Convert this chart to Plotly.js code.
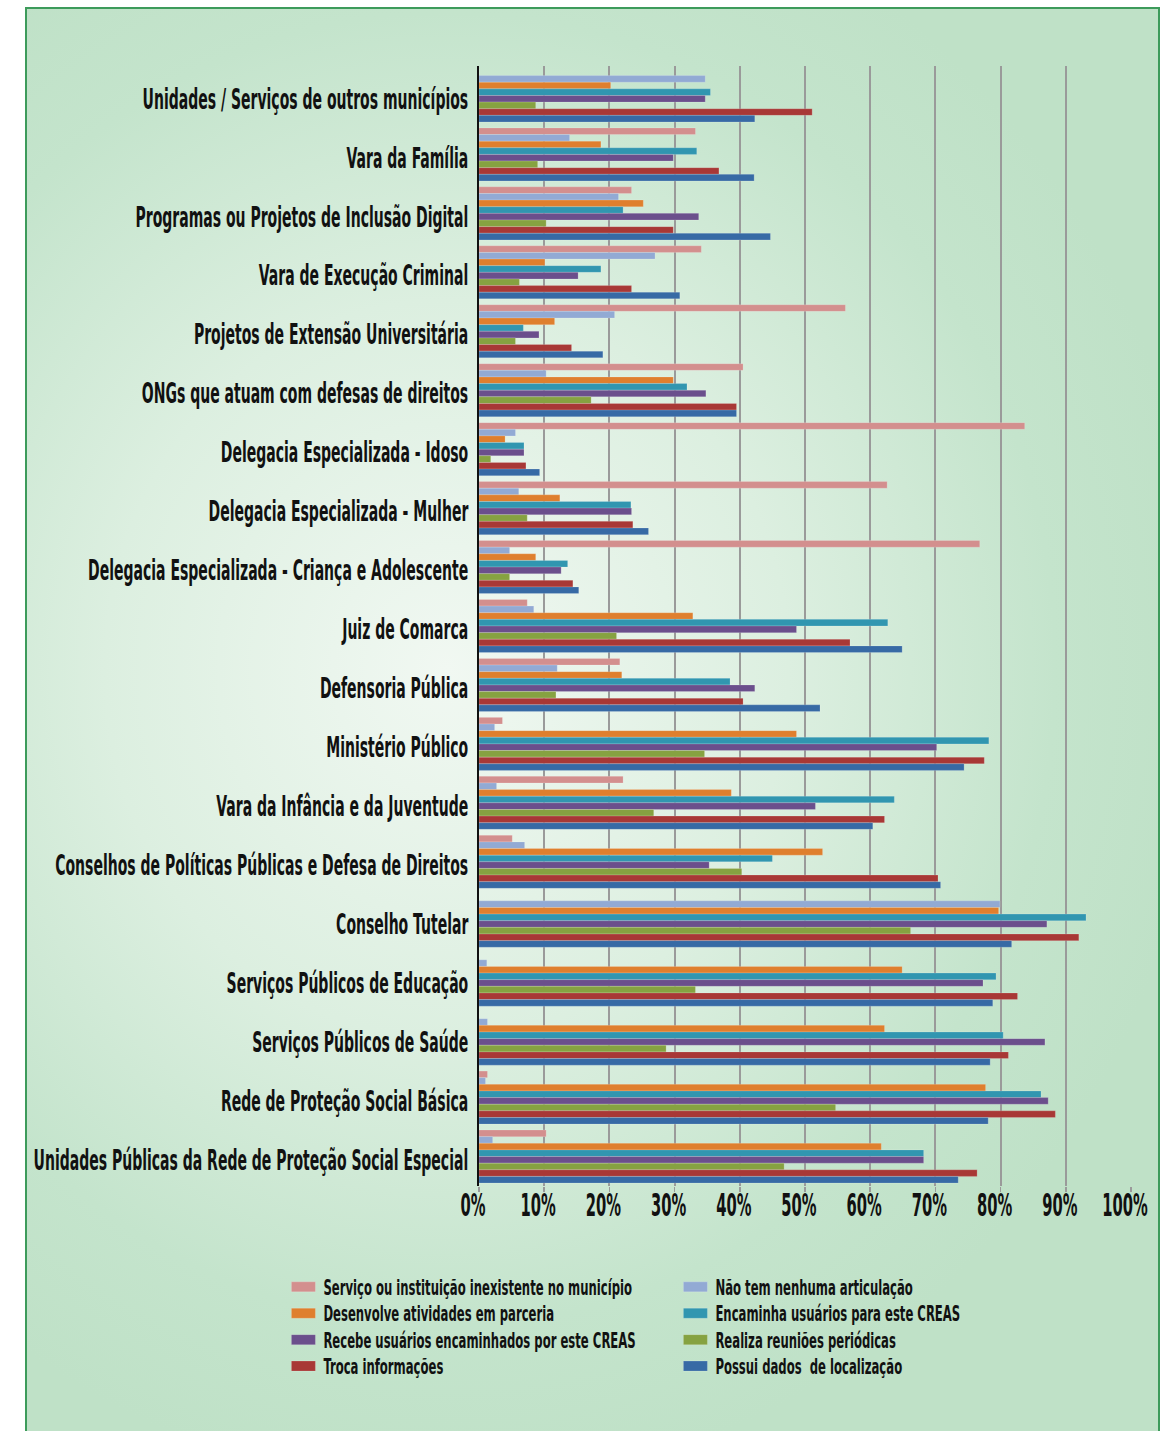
<!DOCTYPE html>
<html>
<head>
<meta charset="utf-8">
<script src="https://cdn.plot.ly/plotly-3.0.1.min.js"></script>
<style>
  html, body { margin:0; padding:0; background:#ffffff; width:1163px; height:1431px; overflow:hidden; }
  #frame { position:absolute; left:25px; top:7px; width:1131px; height:1440px;
    border:2px solid #3d9b5b;
    background: radial-gradient(ellipse 760px 820px at 420px 660px, #f1f8f2 0%, #dcefe0 45%, #c4e4cc 80%, #bfe1c7 100%); }
  #chart { position:absolute; left:0; top:0; width:1163px; height:1431px; }
</style>
</head>
<body>
<div id="frame"></div>
<div id="chart"></div>
<script>
const categories = [
  "Unidades / Serviços de outros municípios",
  "Vara da Família",
  "Programas ou Projetos de Inclusão Digital",
  "Vara de Execução Criminal",
  "Projetos de Extensão Universitária",
  "ONGs que atuam com defesas de direitos",
  "Delegacia Especializada - Idoso",
  "Delegacia Especializada - Mulher",
  "Delegacia Especializada - Criança e Adolescente",
  "Juiz de Comarca",
  "Defensoria Pública",
  "Ministério Público",
  "Vara da Infância e da Juventude",
  "Conselhos de Políticas Públicas e Defesa de Direitos",
  "Conselho Tutelar",
  "Serviços Públicos de Educação",
  "Serviços Públicos de Saúde",
  "Rede de Proteção Social Básica",
  "Unidades Públicas da Rede de Proteção Social Especial"
];

const seriesNames = [
  "Serviço ou instituição inexistente no município",
  "Não tem nenhuma articulação",
  "Desenvolve atividades em parceria",
  "Encaminha usuários para este CREAS",
  "Recebe usuários encaminhados por este CREAS",
  "Realiza reuniões periódicas",
  "Troca informações",
  "Possui dados  de localização"
];

const inexistente = [0, 33.2, 23.4, 34.1, 56.2, 40.5, 83.7, 62.6, 76.8, 7.4, 21.6, 3.6, 22.1, 5.1, 0, 0, 0, 1.3, 10.3];
const naoTem      = [34.7, 13.9, 21.4, 27.0, 20.8, 10.3, 5.6, 6.1, 4.7, 8.4, 12.0, 2.4, 2.7, 7.0, 79.9, 1.2, 1.3, 1.0, 2.1];
const desenvolve  = [20.2, 18.7, 25.2, 10.1, 11.6, 29.8, 4.0, 12.4, 8.7, 32.8, 21.9, 48.7, 38.7, 52.7, 79.7, 64.9, 62.2, 77.7, 61.7];
const encaminha   = [35.5, 33.4, 22.1, 18.7, 6.8, 31.9, 6.9, 23.3, 13.6, 62.7, 38.5, 78.2, 63.7, 45.0, 93.1, 79.3, 80.4, 86.2, 68.2];
const recebe      = [34.7, 29.8, 33.7, 15.2, 9.2, 34.8, 6.9, 23.4, 12.6, 48.7, 42.3, 70.2, 51.6, 35.3, 87.1, 77.3, 86.8, 87.3, 68.2];
const reunioes    = [8.7, 9.0, 10.3, 6.2, 5.6, 17.2, 1.8, 7.4, 4.7, 21.1, 11.8, 34.6, 26.8, 40.3, 66.2, 33.2, 28.7, 54.7, 46.8];
const troca       = [51.1, 36.8, 29.8, 23.4, 14.2, 39.5, 7.2, 23.6, 14.4, 56.9, 40.5, 77.5, 62.2, 70.4, 92.0, 82.6, 81.2, 88.4, 76.4];
const possui      = [42.3, 42.2, 44.7, 30.8, 19.0, 39.5, 9.3, 26.0, 15.3, 64.9, 52.3, 74.4, 60.4, 70.8, 81.7, 78.8, 78.4, 78.1, 73.5];

const seriesValues = [inexistente, naoTem, desenvolve, encaminha, recebe, reunioes, troca, possui];
const seriesColors = ["#d38f8e", "#92aad4", "#df7f2e", "#3196b0", "#6b4f8c", "#86a241", "#a83836", "#376aa5"];

const FONT = "'Liberation Sans Narrow', 'Arial Narrow', 'DejaVu Sans Condensed', sans-serif";

const data = seriesValues.map(function(vals, i){
  return {
    type: 'bar', orientation: 'h',
    name: seriesNames[i],
    x: vals, y: categories,
    marker: { color: seriesColors[i], line: { color: 'rgba(255,255,255,0.35)', width: 0.5 } },
    hoverinfo: 'x+name'
  };
});

const layout = {
  width: 1163, height: 1431,
  paper_bgcolor: 'rgba(0,0,0,0)', plot_bgcolor: 'rgba(0,0,0,0)',
  margin: { l: 479, r: 32, t: 66, b: 245 },
  barmode: 'group', bargap: 0.1, bargroupgap: 0,
  font: { family: FONT, color: '#111111', weight: 'bold' },
  xaxis: {
    range: [0, 100], dtick: 10, tick0: 0, ticksuffix: '%',
    showgrid: true, gridcolor: '#9a9a9a', gridwidth: 2,
    zeroline: false, showline: false,
    ticks: 'outside', ticklen: 5, tickcolor: '#9a9a9a', tickwidth: 1.5,
    tickfont: { family: FONT, size: 20, color: '#111111', weight: 'bold' },
    automargin: false, fixedrange: true
  },
  yaxis: {
    autorange: 'reversed', type: 'category',
    showline: true, linecolor: '#111111', linewidth: 2,
    showgrid: false, ticks: '', ticklabelstandoff: 5,
    tickfont: { family: FONT, size: 19, color: '#111111', weight: 'bold' },
    automargin: false, fixedrange: true
  },
  showlegend: true,
  legend: {
    orientation: 'h', x: -0.30, xanchor: 'left', y: -0.0738, yanchor: 'top',
    entrywidth: 347, entrywidthmode: 'pixels', traceorder: 'normal',
    bgcolor: 'rgba(0,0,0,0)',
    font: { family: FONT, size: 18, color: '#111111', weight: 'bold' }
  }
};

// Narrow/tall look of the original display font, applied to the real text elements
function reshape(sel, sx, sy, anchor, dx, dy){
  document.querySelectorAll(sel).forEach(function(t){
    var bb = t.getBBox();
    var ax = anchor === 'end' ? bb.x + bb.width : (anchor === 'start' ? bb.x : bb.x + bb.width / 2);
    var cy = bb.y + bb.height / 2;
    var tr = t.getAttribute('transform') || '';
    t.setAttribute('transform', tr + ' translate(' + dx + ',' + dy + ') translate(' + ax + ',' + cy + ') scale(' + sx + ',' + sy + ') translate(' + (-ax) + ',' + (-cy) + ')');
  });
}

Plotly.newPlot('chart', data, layout, { displayModeBar: false, staticPlot: true }).then(function(){
  reshape('#chart .ytick text', 0.82, 1.5, 'end', 0, 3);
  reshape('#chart .xtick text', 0.82, 1.6, 'middle', -6, -4);
  reshape('#chart .legendtext', 0.72, 1.16, 'start', 0, 0);
  document.querySelectorAll('#chart .legendpoints path').forEach(function(p){
    p.setAttribute('d', 'M12,5H-12V-5H12Z');
  });
});
</script>
</body>
</html>
